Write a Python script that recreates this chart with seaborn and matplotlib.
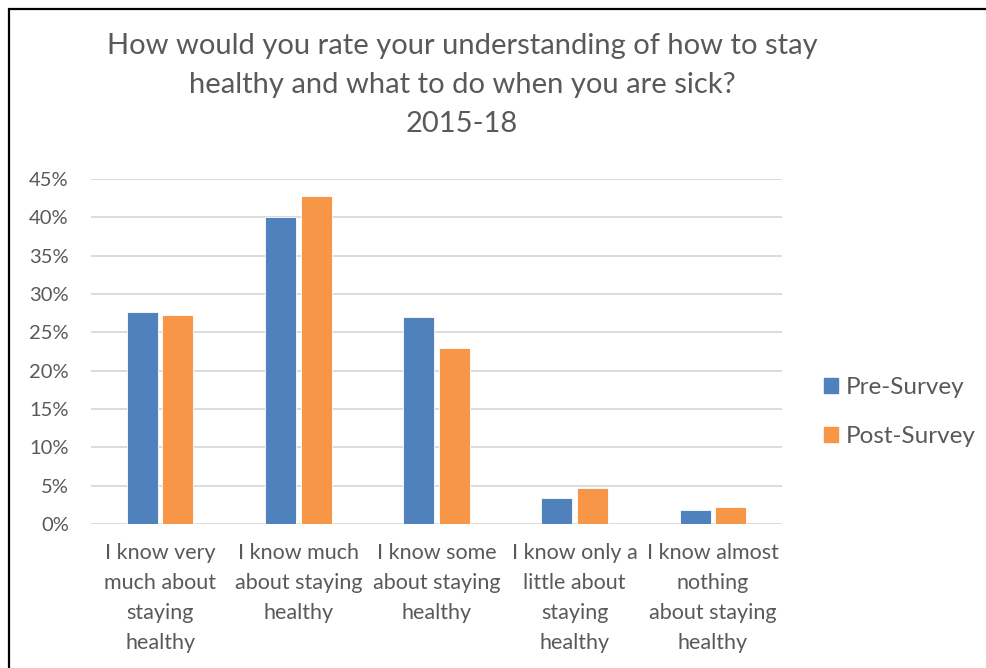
import matplotlib
matplotlib.use("Agg")
import matplotlib.pyplot as plt
import matplotlib.patches as mpatches
import seaborn as sns
import pandas as pd

categories = [
    "I know very\nmuch about\nstaying\nhealthy",
    "I know much\nabout staying\nhealthy",
    "I know some\nabout staying\nhealthy",
    "I know only a\nlittle about\nstaying\nhealthy",
    "I know almost\nnothing\nabout staying\nhealthy",
]
pre_survey = [0.277, 0.401, 0.270, 0.034, 0.018]
post_survey = [0.273, 0.428, 0.230, 0.047, 0.022]
series_names = ["Pre-Survey", "Post-Survey"]
y_ticks = [0.0, 0.05, 0.10, 0.15, 0.20, 0.25, 0.30, 0.35, 0.40, 0.45]
title = ("How would you rate your understanding of how to stay\n"
         "healthy and what to do when you are sick?\n2015-18")

df = pd.DataFrame({
    "category": categories * 2,
    "value": pre_survey + post_survey,
    "series": [series_names[0]] * len(categories) + [series_names[1]] * len(categories),
})

sns.set_style("white")
plt.rcParams["font.family"] = ["Lato", "DejaVu Sans"]
text_color = "#595959"

fig = plt.figure(figsize=(9.87, 6.68), dpi=100)
ax = fig.add_axes([0.0922, 0.2156, 0.7001, 0.5164])

palette = {"Pre-Survey": "#4F81BD", "Post-Survey": "#F79646"}
sns.barplot(data=df, x="category", y="value", hue="series", palette=palette,
            width=0.515, gap=0.13, ax=ax, saturation=1, errorbar=None,
            edgecolor="white", linewidth=0.6, zorder=3)

ax.set_ylim(0, 0.45)
ax.set_xlim(-0.5, len(categories) - 0.5)
ax.set_yticks(y_ticks)
ax.set_yticklabels([f"{int(round(t * 100))}%" for t in y_ticks])
ax.yaxis.grid(True, color="#D9D9D9", linewidth=1.3, zorder=0)
ax.set_axisbelow(True)
for s in ax.spines.values():
    s.set_visible(False)
ax.tick_params(axis="y", length=0, pad=16, labelsize=14.5, labelcolor=text_color)
ax.tick_params(axis="x", length=0, pad=14, labelsize=15.5, labelcolor=text_color)
for lbl in ax.get_xticklabels():
    lbl.set_linespacing(1.62)
ax.set_xlabel("")
ax.set_ylabel("")

handles = [mpatches.Patch(color=palette[n], label=n) for n in series_names]
ax.legend(handles=handles, loc="center left", bbox_to_anchor=(1.029, 0.325),
          frameon=False, fontsize=17.5, labelcolor=text_color,
          handlelength=0.58, handleheight=0.58, handletextpad=0.3,
          labelspacing=1.15)

fig.text(0.468, 0.950, title, ha="center", va="top", fontsize=21,
         color=text_color, linespacing=1.62)

# outer chart frame
fig.patches.append(mpatches.Rectangle((0.009, -0.05), 1.05, 0.036 + 1.0,
                                      transform=fig.transFigure, fill=False,
                                      edgecolor="black", linewidth=1.6))

fig.savefig("out.png", dpi=100)
